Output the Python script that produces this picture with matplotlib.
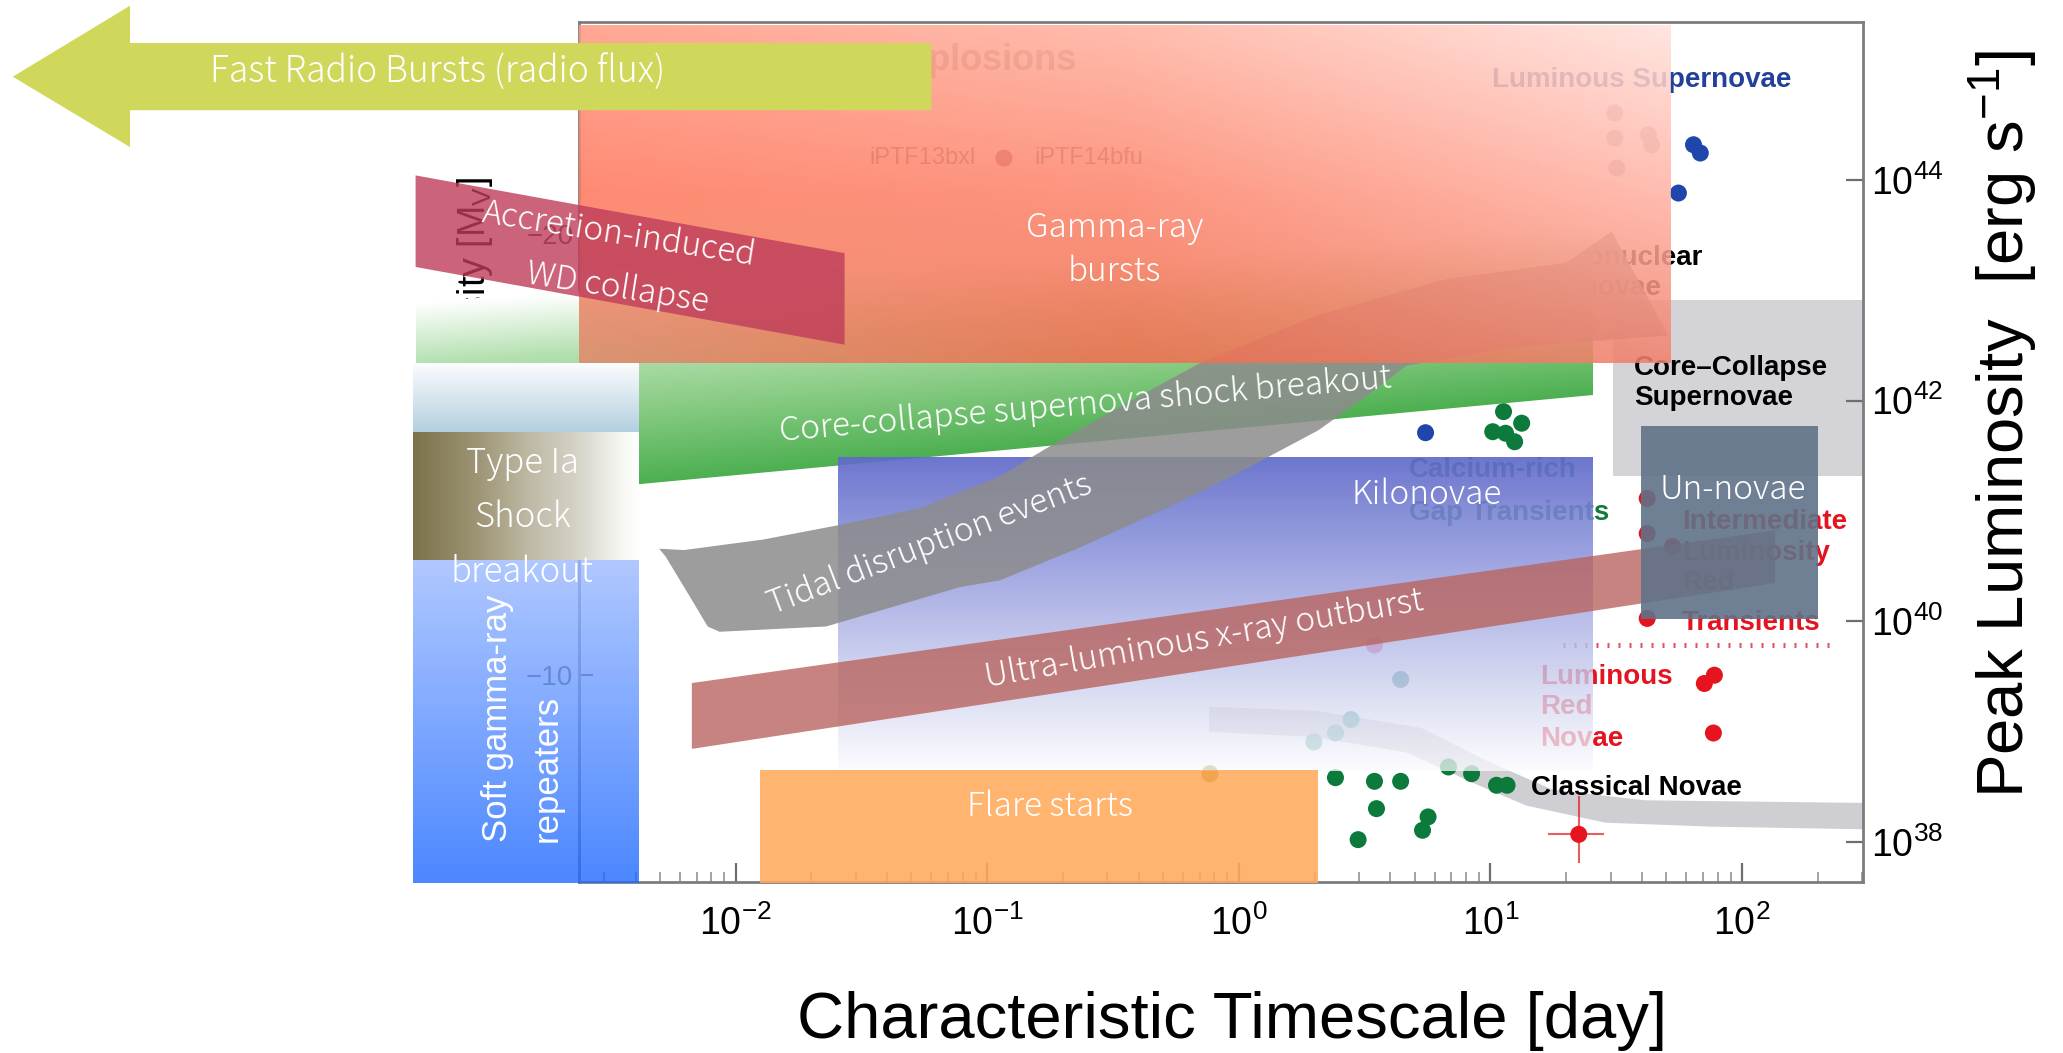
import numpy as np
import matplotlib
matplotlib.use("Agg")
import matplotlib.pyplot as plt
from matplotlib.patches import Polygon, Rectangle
from matplotlib.ticker import FixedLocator, FuncFormatter, NullFormatter, NullLocator, LogLocator

plt.rcParams["font.family"] = ["Liberation Sans", "DejaVu Sans"]
plt.rcParams["mathtext.fontset"] = "custom"
plt.rcParams["mathtext.rm"] = "Liberation Sans"
plt.rcParams["mathtext.it"] = "Liberation Sans:italic"
plt.rcParams["mathtext.bf"] = "Liberation Sans:bold"
plt.rcParams["mathtext.default"] = "rm"

# ---------------- axes (log10 timescale [day], log10 peak luminosity [erg/s]) ----------------
log_t_lim = (-2.623, 2.481)
log_L_lim = (37.636, 45.433)
t_tick_exp = [-2, -1, 0, 1, 2]
L_tick_exp = [38, 40, 42, 44]
mag_ticks = [-10, -20]
mag_ref_log_L = 39.51          # luminosity where M_V = -10

# ---------------- background survey: individual events ----------------
classical_log_t = [0.384, 0.539, 0.643, 0.925, 1.024, 1.066, 0.547, 0.752, 0.730, 0.474, 0.833]
classical_log_L = [38.581, 38.548, 38.548, 38.617, 38.512, 38.512, 38.300, 38.225, 38.104, 38.019, 38.678]
carich_log_t = [1.052, 1.124, 1.009, 1.060, 1.096, 0.985, 1.053]
carich_log_L = [41.900, 41.795, 41.718, 41.704, 41.627, 42.054, 42.090]
slsn_log_t = [0.742, 1.807, 1.834, 1.747]
slsn_log_L = [41.709, 44.320, 44.245, 43.882]
pale_log_t = [1.494, 1.494, 1.628, 1.641, 1.503]
pale_log_L = [44.608, 44.381, 44.411, 44.320, 44.109]
ilrt_log_t = [1.623, 1.623, 1.724, 1.623]
ilrt_log_L = [41.113, 40.795, 40.675, 40.025]
lrn_log_t = [1.890, 1.850, 1.886]
lrn_log_L = [39.510, 39.435, 38.986]
ptf_log_t = [-0.934]
ptf_log_L = [44.199]
misc_log_t = [0.539, 0.643, 0.446, 0.384, 0.298, -0.115]
misc_log_L = [39.783, 39.471, 39.108, 38.986, 38.905, 38.617]
misc_colors = ["#f0508a", "#2f8f8c", "#4a9a96", "#5aa39e", "#6aaba6", "#8f8a1a"]
cross_log_t = 1.351
cross_log_L = 38.067
cross_log_t_err = (1.231, 1.446)
cross_log_L_err = (37.815, 38.406)
ilrt_limit_log_t = (1.290, 2.374)
ilrt_limit_log_L = 39.783

# classical-nova decline band
mmrd_log_t = [-0.118, 0.305, 0.724, 0.985, 1.247, 1.613, 2.481,
              2.481, 1.874, 1.456, 1.142, 0.933, 0.672, 0.305, -0.118]
mmrd_log_L = [39.224, 39.188, 39.033, 38.734, 38.472, 38.376, 38.352,
              38.113, 38.137, 38.173, 38.328, 38.531, 38.806, 38.949, 38.997]
ccsn_box_log_t = (1.487, 2.481)
ccsn_box_log_L = (41.313, 42.913)

# ---------------- transient classes ----------------
frb_log_t = [-1.222, -4.407, -4.407, -4.873, -4.407, -4.407, -1.222]
frb_log_L = [45.242, 45.242, 45.581, 44.937, 44.299, 44.633, 44.633]
grb_log_t = (-2.623, 1.718)
grb_log_L = (42.338, 45.409)
breakout_log_t = (-3.272, 1.409)
breakout_top_log_L = (42.890, 43.582)
breakout_bottom_log_L = (41.051, 42.054)
left_col_log_t = (-3.282, -2.383)
pale_strip_log_L = (41.719, 42.340)
ia_breakout_log_L = (40.554, 41.719)
sgr_log_L = (37.624, 40.554)
aic_log_t = [-3.272, -1.567, -1.567, -3.272]
aic_log_L = [44.042, 43.337, 42.507, 43.212]
tde_log_t = [-2.304, -2.205, -1.891, -1.588, -1.264, -0.950, -0.741, -0.480, -0.165, 0.305, 0.828, 1.299, 1.482,
             1.707, 1.090, 0.666, 0.515, 0.316, -0.008, -0.275, -0.631, -0.950, -1.107, -1.640, -2.064, -2.111,
             -2.205, -2.278]
tde_log_L = [40.657, 40.645, 40.740, 40.872, 41.027, 41.313, 41.600, 41.934, 42.328, 42.770, 43.104, 43.248, 43.534,
             42.591, 42.484, 42.316, 42.054, 41.731, 41.337, 41.039, 40.669, 40.370, 40.310, 39.952, 39.904, 39.952,
             40.310, 40.585]
kn_log_t = (-1.593, 1.409)
kn_log_L = (38.639, 41.493)
ulx_log_t = [-2.174, 2.131, 2.131, -2.174]
ulx_log_L = [39.439, 40.824, 40.346, 38.842]
flare_log_t = (-1.902, 0.316)
flare_log_L = (37.624, 38.651)
unnova_log_t = (1.597, 2.303)
unnova_log_L = (40.024, 41.767)


def T(a):
    return 10.0 ** np.asarray(a, dtype=float)


def ramp(pos, stops, colors):
    c = np.asarray(colors, float) / 255.0
    return np.stack([np.interp(pos, stops, c[:, k]) for k in range(3)], axis=-1)


fig = plt.figure(figsize=(20.63, 10.53), dpi=100)
ax = fig.add_axes([0.2806, 0.1625, 0.6225, 0.8166])
ax.set_xscale("log")
ax.set_yscale("log")
ax.set_xlim(T(log_t_lim[0]), T(log_t_lim[1]))
ax.set_ylim(T(log_L_lim[0]), T(log_L_lim[1]))
ax.set_autoscale_on(False)


def mesh(rgba, log_t, log_L, z, clip=None):
    """Colour field on a grid that is uniform in log space; row 0 is the lowest luminosity."""
    H, W = rgba.shape[:2]
    X = T(np.linspace(log_t[0], log_t[1], W + 1))
    Y = T(np.linspace(log_L[0], log_L[1], H + 1))
    qm = ax.pcolormesh(X, Y, rgba, shading="flat", zorder=z, antialiased=False,
                       edgecolors="none", linewidth=0)
    qm.set_clip_box(None)
    if clip is None:
        qm.set_clip_on(False)
    else:
        qm.set_clip_path(clip)
    return qm


def rect(log_t, log_L, **kw):
    x0, x1 = T(log_t)
    y0, y1 = T(log_L)
    return ax.add_patch(Rectangle((x0, y0), x1 - x0, y1 - y0, **kw))


def poly(log_t, log_L, **kw):
    return ax.add_patch(Polygon(np.column_stack([T(log_t), T(log_L)]), closed=True, **kw))


def vertical(n, stops, colors, alpha):
    """Top-to-bottom colour ramp, returned bottom row first."""
    pos = np.linspace(0, 1, n)[:, None] * np.ones((1, 2))
    out = np.ones((n, 2, 4))
    out[..., :3] = ramp(pos, stops, colors)
    out[..., 3] = np.interp(pos, [0, 1], alpha) if np.ndim(alpha) else alpha
    return out[::-1]


for sp in ax.spines.values():
    sp.set_color("#7d7d7d")
    sp.set_linewidth(2)

# ---------------- ticks and labels ----------------
fmt = FuncFormatter(lambda val, pos: r"$10^{%d}$" % int(round(np.log10(val))))
ax.xaxis.set_major_locator(FixedLocator(T(t_tick_exp)))
ax.xaxis.set_minor_locator(LogLocator(base=10, subs=np.arange(2, 10), numticks=60))
ax.xaxis.set_minor_formatter(NullFormatter())
ax.xaxis.set_major_formatter(fmt)
ax.tick_params(axis="x", which="major", direction="in", length=14, width=1.6, color="#6e6e6e",
               labelsize=27, pad=17, top=False)
ax.tick_params(axis="x", which="minor", direction="in", length=7, width=1.1, color="#8a8a8a", top=False)

ax.yaxis.tick_right()
ax.yaxis.set_major_locator(FixedLocator(T(L_tick_exp)))
ax.yaxis.set_minor_locator(NullLocator())
ax.yaxis.set_major_formatter(fmt)
ax.tick_params(axis="y", which="major", direction="in", length=12, width=1.6, color="#6e6e6e",
               labelsize=27, pad=6, left=False, right=True)

ax.set_xlabel("Characteristic Timescale [day]", fontsize=47)
ax.xaxis.set_label_coords(0.5083, -0.162)
ax.xaxis.label.set_va("center")
ax.yaxis.set_label_position("right")
ax.set_ylabel("Peak Luminosity  [erg s$^{-1}$]", fontsize=47, rotation=90)
ax.yaxis.set_label_coords(1.109, 0.532)
ax.yaxis.label.set_va("center")
ax.yaxis.label.set_ha("center")


# absolute-magnitude scale on the left; the scale runs on |M_V| (M_V is negative here)
def lum_to_absmag(L):
    L = np.asarray(L, dtype=float)
    return 10.0 + 2.5 * (np.log10(np.clip(L, 1e-300, None)) - mag_ref_log_L)


def absmag_to_lum(A):
    return 10.0 ** (mag_ref_log_L + (np.asarray(A, dtype=float) - 10.0) / 2.5)


sec = ax.secondary_yaxis("left", functions=(lum_to_absmag, absmag_to_lum))
sec.set_yticks([abs(m) for m in mag_ticks])
sec.yaxis.set_minor_locator(NullLocator())
sec.tick_params(direction="in", length=10, width=1.4, colors="#3a3a3a", labelsize=20, pad=4)
sec.spines["left"].set_color("#7d7d7d")
sec.set_ylabel("Luminosity [M$_V$]", fontsize=27)
sec.yaxis.set_label_coords(-0.081, 0.668, transform=ax.transAxes)
sec.yaxis.label.set_va("center")
sec.yaxis.label.set_ha("center")

# ---------------- background survey ----------------
poly(mmrd_log_t, mmrd_log_L, fc="#cfcfd3", ec="none", zorder=1)
rect(ccsn_box_log_t, ccsn_box_log_L, fc="#d4d4d8", ec="none", zorder=1)
ax.plot(T(ilrt_limit_log_t), T([ilrt_limit_log_L] * 2), color="#e4505e", lw=3.6,
        ls=(0, (0.4, 1.8)), dash_capstyle="butt", zorder=2)

dot = dict(s=150, edgecolors="none", zorder=3)
ax.scatter(T(classical_log_t), T(classical_log_L), c="#0b7a3b", **dot)
ax.scatter(T(carich_log_t), T(carich_log_L), c="#0b7a3b", **dot)
ax.scatter(T(slsn_log_t), T(slsn_log_L), c="#1f46aa", **dot)
ax.scatter(T(pale_log_t), T(pale_log_L), c="#b4a8bd", **dot)
ax.scatter(T(ilrt_log_t), T(ilrt_log_L), c="#e6141e", **dot)
ax.scatter(T(lrn_log_t), T(lrn_log_L), c="#e6141e", **dot)
ax.scatter(T(ptf_log_t), T(ptf_log_L), c="#9a4a6a", **dot)
ax.scatter(T(misc_log_t), T(misc_log_L), c=misc_colors, **dot)
ax.plot(T(cross_log_t_err), T([cross_log_L] * 2), color="#e6141e", lw=1.5, alpha=0.7, zorder=3)
ax.plot(T([cross_log_t] * 2), T(cross_log_L_err), color="#e6141e", lw=1.5, alpha=0.7, zorder=3)
ax.scatter(T([cross_log_t]), T([cross_log_L]), c="#e6141e", **dot)

bold = dict(fontsize=20, fontweight="bold", ha="left", va="center", zorder=3)
ax.text(T(1.006), T(44.910), "Luminous Supernovae", color="#23409a", **bold)
ax.text(T(1.048), T(43.296), "Thermonuclear", color="black", **bold)
ax.text(T(1.048), T(43.021), "Supernovae", color="black", **bold)
ax.text(T(1.571), T(42.295), "Core\u2013Collapse", color="black", **bold)
ax.text(T(1.571), T(42.023), "Supernovae", color="black", **bold)
ax.text(T(0.677), T(41.373), "Calcium-rich", color="#137a3c", **bold)
ax.text(T(0.677), T(40.979), "Gap Transients", color="#137a3c", **bold)
for word, lv in zip(["Intermediate", "Luminosity", "Red", "Transients"], [40.901, 40.614, 40.343, 39.980]):
    ax.text(T(1.760), T(lv), word, color="#e3141f", **bold)
for word, lv in zip(["Luminous", "Red", "Novae"], [39.495, 39.223, 38.936]):
    ax.text(T(1.197), T(lv), word, color="#e3141f", **bold)
ax.text(T(1.163), T(38.491), "Classical Novae", color="black", **bold)
ax.text(T(-1.045), T(44.199), "iPTF13bxl", color="#666666", fontsize=17, ha="right", va="center", zorder=3)
ax.text(T(-0.812), T(44.199), "iPTF14bfu", color="#666666", fontsize=17, ha="left", va="center", zorder=3)
ax.text(T(-0.644), T(44.997), "Explosions", color="#9a9a9a", fontsize=26, fontweight="bold",
        ha="right", va="baseline", zorder=3)

# ---------------- transient classes ----------------
# core-collapse shock breakout band, shaded across the band
Hb, Wb = 160, 360
ub = np.ones((Hb, 1)) * np.linspace(breakout_log_t[0], breakout_log_t[1], Wb)[None, :]
vb = np.linspace(min(breakout_bottom_log_L), max(breakout_top_log_L), Hb)[:, None] * np.ones((1, Wb))
top_b = np.interp(ub, breakout_log_t, breakout_top_log_L)
bot_b = np.interp(ub, breakout_log_t, breakout_bottom_log_L)
tb = np.clip((top_b - vb) / (top_b - bot_b), 0, 1)
band_rgba = np.ones((Hb, Wb, 4))
band_rgba[..., :3] = ramp(tb, [0, 0.3, 0.6, 1.0],
                          [(255, 255, 255), (180, 224, 176), (138, 204, 133), (76, 175, 80)])
band_clip = Polygon(np.column_stack([T([breakout_log_t[0], breakout_log_t[1], breakout_log_t[1], breakout_log_t[0]]),
                                     T([breakout_top_log_L[0], breakout_top_log_L[1],
                                        breakout_bottom_log_L[1], breakout_bottom_log_L[0]])]),
                    closed=True, transform=ax.transData)
mesh(band_rgba, breakout_log_t, (min(breakout_bottom_log_L), max(breakout_top_log_L)), 4, band_clip)

# left column: pale strip, Type Ia breakout, soft gamma-ray repeaters
mesh(vertical(40, [0, 1], [(250, 251, 253), (180, 208, 224)], 1.0), left_col_log_t, pale_strip_log_L, 4)

ia = np.ones((2, 160, 4))
ia[..., :3] = ramp(np.ones((2, 1)) * np.linspace(0, 1, 160)[None, :], [0, 0.295, 0.517, 0.739, 0.886, 1.0],
                   [(125, 113, 75), (158, 150, 118), (190, 185, 165), (215, 212, 200), (240, 240, 235),
                    (255, 255, 255)])
mesh(ia, left_col_log_t, ia_breakout_log_L, 4)

mesh(vertical(120, [0, 1], [(156, 186, 255), (30, 105, 255)], 0.8), left_col_log_t, sgr_log_L, 4)

# kilonovae
mesh(vertical(150, [0, 0.344, 0.66, 0.87, 1.0],
              [(95, 106, 201), (145, 152, 221), (194, 198, 234), (229, 231, 246), (251, 251, 254)],
              (0.92, 0.75)),
     kn_log_t, kn_log_L, 5)

# tidal disruption events
poly(tde_log_t, tde_log_L, fc=(0.55, 0.55, 0.55), ec="none", alpha=0.85, zorder=6, clip_on=False)

# gamma-ray bursts: pale in the upper right, salmon on the left, warmer towards the bottom
Hr, Wr = 110, 200
s = np.ones((Hr, 1)) * np.linspace(0, 1, Wr)[None, :]
r = np.linspace(1, 0, Hr)[:, None] * np.ones((1, Wr))        # 0 at the top edge
anchors = np.array([[(255, 155, 131), (255, 178, 161), (255, 225, 220)],
                    [(255, 120, 94), (252, 133, 108), (255, 178, 164)],
                    [(223, 138, 106), (239, 110, 78), (240, 130, 110)]], float) / 255.0


def across(row):
    return np.stack([np.interp(s, [0, 0.5, 1], row[:, k]) for k in range(3)], axis=-1)


c_top, c_mid, c_bot = across(anchors[0]), across(anchors[1]), across(anchors[2])
w_up = np.clip(r / 0.5, 0, 1)[..., None]
w_dn = np.clip((r - 0.5) / 0.5, 0, 1)[..., None]
grb = np.ones((Hr, Wr, 4))
grb[..., :3] = np.where(r[..., None] <= 0.5, c_top + (c_mid - c_top) * w_up, c_mid + (c_bot - c_mid) * w_dn)
grb[..., 3] = 0.87
mesh(grb, grb_log_t, grb_log_L, 7)

# accretion-induced collapse, ULX, flares, un-novae
poly(aic_log_t, aic_log_L, fc=(190 / 255, 60 / 255, 90 / 255), ec="none", alpha=0.8, zorder=8, clip_on=False)
poly(ulx_log_t, ulx_log_L, fc=(185 / 255, 100 / 255, 95 / 255), ec="none", alpha=0.8, zorder=8, clip_on=False)
rect(flare_log_t, flare_log_L, fc=(1.0, 170 / 255, 90 / 255), ec="none", alpha=0.87, zorder=8, clip_on=False)
rect(unnova_log_t, unnova_log_L, fc=(96 / 255, 114 / 255, 136 / 255), ec="none", alpha=0.9, zorder=9)

# fast radio bursts arrow
poly(frb_log_t, frb_log_L, fc="#cfd85a", ec="none", zorder=10, clip_on=False)

# ---------------- class labels ----------------
ov = dict(color="white", family=["Noto Sans CJK JP", "DejaVu Sans"], fontweight="light", zorder=20,
          ha="center", va="center", rotation_mode="anchor")
ax.text(T(-4.088), T(44.985), "Fast Radio Bursts (radio flux)", fontsize=25.5, **{**ov, "ha": "left"})
ax.text(T(-0.495), T(43.565), "Gamma-ray", fontsize=24, **ov)
ax.text(T(-0.495), T(43.170), "bursts", fontsize=24, **ov)
ax.text(T(-2.466), T(43.510), "Accretion-induced", fontsize=24, rotation=-9, **ov)
ax.text(T(-2.471), T(43.021), "WD collapse", fontsize=24, rotation=-9, **ov)
ax.text(T(-0.610), T(41.958), "Core-collapse supernova shock breakout", fontsize=24, rotation=5, **ov)
ax.text(T(-2.848), T(41.433), "Type Ia", fontsize=25, **ov)
ax.text(T(-2.848), T(40.947), "Shock", fontsize=25, **ov)
ax.text(T(-2.848), T(40.448), "breakout", fontsize=25, **ov)
ax.text(T(-2.945), T(37.994), "Soft gamma-ray", fontsize=25, color="white", rotation=90,
        ha="center", va="bottom", zorder=20)
ax.text(T(-2.749), T(37.994), "repeaters", fontsize=25, color="white", rotation=90,
        ha="center", va="bottom", zorder=20)
ax.text(T(-1.227), T(40.693), "Tidal disruption events", fontsize=24, rotation=20.8, **ov)
ax.text(T(-0.139), T(39.833), "Ultra-luminous x-ray outburst", fontsize=24, rotation=10, **ov)
ax.text(T(0.745), T(41.146), "Kilonovae", fontsize=24, **ov)
ax.text(T(1.963), T(41.189), "Un-novae", fontsize=24, **ov)
ax.text(T(-0.751), T(38.316), "Flare starts", fontsize=24, **ov)

# the secondary scale is finalised on the first draw; label its ticks afterwards
fig.canvas.draw()
sec.yaxis.set_major_locator(FixedLocator([abs(m) for m in mag_ticks]))
sec.yaxis.set_major_formatter(FuncFormatter(lambda a, pos: "\u2212%d" % int(round(a))))

fig.savefig("out.png", dpi=100, facecolor="white")
